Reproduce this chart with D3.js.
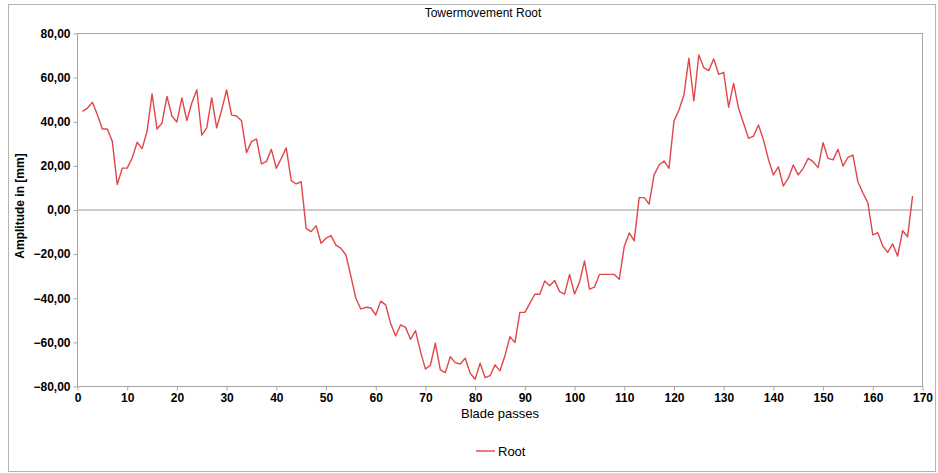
<!DOCTYPE html>
<html>
<head>
<meta charset="utf-8">
<script src="https://cdn.jsdelivr.net/npm/d3@7"></script>
<style>
  html, body { margin: 0; padding: 0; background: #fff; }
  svg { display: block; }
  text { font-family: "Liberation Sans", Arial, sans-serif; fill: #000; }
</style>
</head>
<body>
<svg id="chart" width="938" height="473"></svg>
<script>
// Tower movement at the root, one value per blade pass (1..168)
const bladePasses = d3.range(1, 169);
const rootAmplitude = [
  44.7, 46.2, 48.8, 43.2, 36.7, 36.7, 31.1, 11.5, 19.0, 19.0,
  23.6, 30.7, 27.8, 35.7, 52.6, 36.7, 39.4, 51.5, 42.5, 39.9,
  50.8, 40.5, 48.5, 54.5, 33.9, 37.2, 50.8, 37.2, 45.3, 54.4,
  43.0, 42.6, 40.5, 26.0, 31.0, 32.2, 20.9, 21.9, 27.5, 18.9,
  23.4, 28.2, 13.3, 11.8, 12.8, -8.3, -9.8, -7.1, -15.1, -12.8,
  -11.6, -15.9, -17.4, -20.4, -30.0, -40.0, -44.9, -44.1, -44.3, -47.6,
  -41.3, -43.0, -51.4, -57.1, -52.1, -53.2, -58.6, -54.7, -64.2, -72.1,
  -70.3, -60.4, -72.5, -73.7, -66.5, -69.2, -69.8, -67.2, -74.0, -76.7,
  -69.4, -76.0, -75.1, -70.2, -72.9, -66.1, -57.4, -60.1, -46.4, -46.4,
  -42.3, -38.2, -38.2, -32.2, -34.3, -32.0, -37.0, -38.1, -29.2, -38.1,
  -32.7, -23.1, -35.9, -35.0, -29.2, -29.2, -29.2, -29.2, -31.4, -16.5,
  -10.4, -14.0, 5.6, 5.6, 2.7, 15.9, 20.4, 22.2, 18.9, 40.3,
  45.3, 52.1, 68.8, 49.4, 70.3, 64.5, 63.2, 68.5, 61.5, 62.4,
  46.6, 57.4, 46.1, 39.3, 32.5, 33.5, 38.5, 31.8, 23.0, 15.9,
  19.6, 10.9, 14.4, 20.4, 15.9, 18.9, 23.4, 21.9, 19.2, 30.5,
  23.4, 22.7, 27.5, 19.9, 23.9, 24.9, 12.8, 7.8, 3.3, -11.3,
  -10.3, -16.3, -19.2, -15.4, -20.9, -9.4, -12.1, 6.3
];
const xTicks = d3.range(0, 171, 10);
const yTicks = [-80, -60, -40, -20, 0, 20, 40, 60, 80];
const seriesName = "Root";

const svg = d3.select("#chart");
const plot = { left: 77.5, right: 922.5, top: 33.5, bottom: 386.5 };

const x = d3.scaleLinear().domain([0, 170]).range([plot.left, plot.right]);
const y = d3.scaleLinear().domain([-80, 80]).range([plot.bottom, plot.top]);

const frameColor = "#a6a6a6";
const lineColor = "#e0464a";

// outer frame
svg.append("rect")
  .attr("x", 8.5).attr("y", 4.5).attr("width", 927).attr("height", 467)
  .attr("fill", "none").attr("stroke", "#b4b4b4").attr("stroke-width", 1);

// plot box
svg.append("rect")
  .attr("x", plot.left).attr("y", plot.top)
  .attr("width", plot.right - plot.left).attr("height", plot.bottom - plot.top)
  .attr("fill", "none").attr("stroke", frameColor).attr("stroke-width", 1);

// zero line
svg.append("line")
  .attr("x1", plot.left).attr("x2", plot.right)
  .attr("y1", y(0)).attr("y2", y(0))
  .attr("stroke", "#bdbdbd").attr("stroke-width", 1.6);

// axes
const fmt = v => d3.format(".2f")(v).replace(".", ",");

const yAxis = svg.append("g")
  .attr("transform", `translate(${plot.left},0)`)
  .call(d3.axisLeft(y).tickValues(yTicks).tickSize(4).tickPadding(3).tickFormat(fmt));
const xAxis = svg.append("g")
  .attr("transform", `translate(0,${plot.bottom})`)
  .call(d3.axisBottom(x).tickValues(xTicks).tickSize(4).tickPadding(3).tickFormat(d3.format("d")));

[xAxis, yAxis].forEach(g => {
  g.select(".domain").remove();
  g.selectAll(".tick line").attr("stroke", frameColor);
  g.selectAll(".tick text")
    .attr("font-size", 12).attr("font-weight", "bold")
    .attr("font-family", "'Liberation Sans', Arial, sans-serif")
    .attr("fill", "#111");
});

// data line
const line = d3.line()
  .x((d, i) => x(bladePasses[i]))
  .y(d => y(d));
svg.append("path")
  .datum(rootAmplitude)
  .attr("d", line)
  .attr("fill", "none")
  .attr("stroke", lineColor)
  .attr("stroke-width", 1.4)
  .attr("stroke-linejoin", "round");

// title and axis labels
svg.append("text")
  .attr("x", 483).attr("y", 17)
  .attr("text-anchor", "middle").attr("font-size", 12)
  .text("Towermovement Root");

svg.append("text")
  .attr("x", (plot.left + plot.right) / 2).attr("y", 418)
  .attr("text-anchor", "middle").attr("font-size", 13)
  .text("Blade passes");

svg.append("text")
  .attr("transform", `translate(24,${y(0) - 4}) rotate(-90)`)
  .attr("text-anchor", "middle").attr("font-size", 12).attr("font-weight", "bold")
  .text("Amplitude in [mm]");

// legend
const legend = svg.append("g").attr("transform", "translate(476,451)");
legend.append("line")
  .attr("x1", 0).attr("x2", 19).attr("y1", 0).attr("y2", 0)
  .attr("stroke", lineColor).attr("stroke-width", 1.4);
legend.append("text")
  .attr("x", 22).attr("y", 4.5).attr("font-size", 13)
  .text(seriesName);
</script>
</body>
</html>
